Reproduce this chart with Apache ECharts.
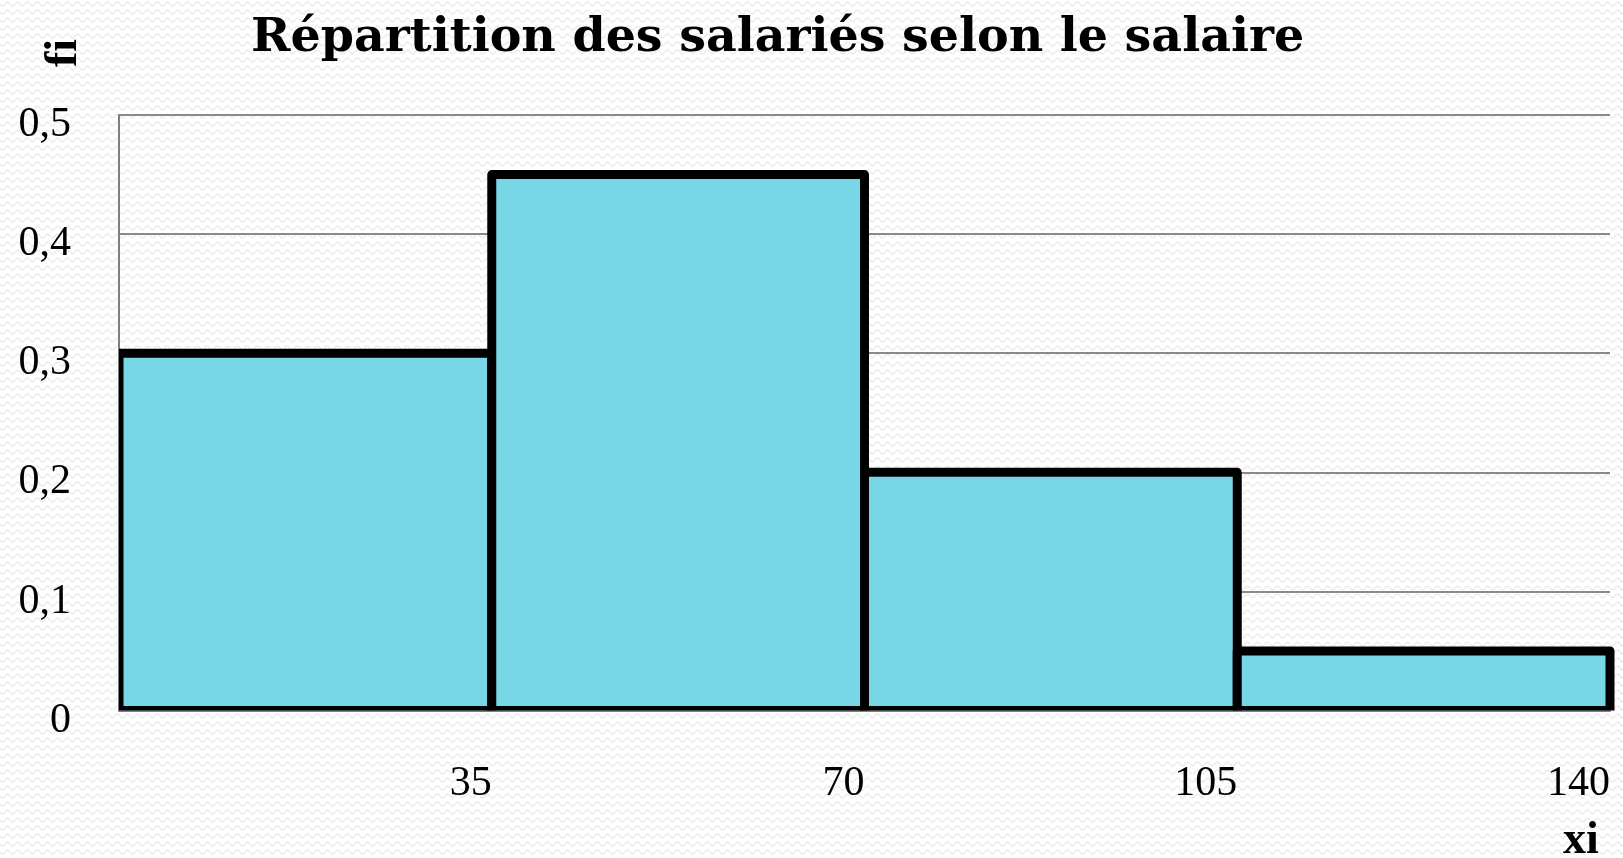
<!DOCTYPE html>
<html><head><meta charset="utf-8">
<script src="https://cdn.jsdelivr.net/npm/echarts@6/dist/echarts.min.js"></script>
<style>html,body{margin:0;padding:0;background:#fff}#c{width:1623px;height:858px}</style>
</head><body><div id="c"></div>
<script>
const classLower = [0, 35, 70, 105];
const classUpper = [35, 70, 105, 140];
const frequencies = [0.3, 0.45, 0.2, 0.05];
const xTickLabels = [35, 70, 105, 140];
const titleText = 'Répartition des salariés selon le salaire';
const yName = 'fi';
const xName = 'xi';

function makePattern() {
  const c = document.createElement('canvas');
  c.width = 10; c.height = 8;
  const g = c.getContext('2d');
  g.fillStyle = '#ffffff'; g.fillRect(0, 0, 10, 8);
  g.strokeStyle = '#ececec'; g.lineWidth = 1.6;
  g.beginPath();
  for (let x = 0; x <= 10; x += 0.5) {
    const y = 4 + 1.8 * Math.sin(x / 10 * 2 * Math.PI);
    if (x === 0) g.moveTo(x, y); else g.lineTo(x, y);
  }
  g.stroke();
  return c;
}

const chart = echarts.init(document.getElementById('c'), null, {renderer: 'canvas'});
const font = 'Liberation Serif';
chart.setOption({
  backgroundColor: {image: makePattern(), repeat: 'repeat'},
  animation: false,
  title: {
    text: titleText, left: 246, top: 10,
    textStyle: {fontFamily: 'DejaVu Serif', fontWeight: 'bold', fontSize: 47.5, color: '#000'}
  },
  grid: {left: 119, right: 13, top: 115, bottom: 147.4, containLabel: false},
  xAxis: {
    type: 'value', min: 0, max: 140, interval: 35,
    axisLine: {show: true, lineStyle: {color: '#7f7f7f', width: 2}},
    axisTick: {show: false},
    splitLine: {show: false},
    axisLabel: {
      formatter: v => xTickLabels.includes(v) ? String(v) : '',
      align: 'right', verticalAlign: 'middle', margin: 73,
      fontFamily: font, fontSize: 42, color: '#000'
    }
  },
  yAxis: {
    type: 'value', min: 0, max: 0.5, interval: 0.1,
    axisLine: {show: true, lineStyle: {color: '#7f7f7f', width: 2}},
    axisTick: {show: false},
    splitLine: {show: true, lineStyle: {color: '#8a8a8a', width: 2}},
    axisLabel: {
      formatter: v => v === 0 ? '0' : v.toFixed(1).replace('.', ','),
      margin: 48, verticalAlign: 'top', lineHeight: 20,
      fontFamily: font, fontSize: 42, color: '#000'
    }
  },
  graphic: [
    {type: 'text', x: 64, y: 53, rotation: Math.PI / 2,
     style: {text: yName, fontFamily: font, fontWeight: 'bold', fontSize: 46, fill: '#000', align: 'center', verticalAlign: 'middle'}},
    {type: 'text', x: 1581, y: 841,
     style: {text: xName, fontFamily: font, fontWeight: 'bold', fontSize: 46, fill: '#000', align: 'center', verticalAlign: 'middle'}}
  ],
  series: [{
    type: 'custom',
    clip: false,
    data: classLower.map((lo, i) => [lo, classUpper[i], frequencies[i]]),
    encode: {x: [0, 1], y: 2},
    renderItem: function (params, api) {
      const p0 = api.coord([api.value(0), 0]);
      const p1 = api.coord([api.value(1), api.value(2)]);
      const cs = params.coordSys;
      return {
        type: 'group',
        clipPath: {type: 'rect', shape: {x: cs.x, y: cs.y - 20, width: cs.width + 20, height: cs.height + 20}},
        children: [{
          type: 'rect',
          shape: {x: p0[0], y: p1[1], width: p1[0] - p0[0], height: p0[1] - p1[1]},
          style: {fill: '#78d7e6', stroke: '#000', lineWidth: 9, lineJoin: 'round'}
        }]
      };
    }
  }]
});
</script></body></html>
